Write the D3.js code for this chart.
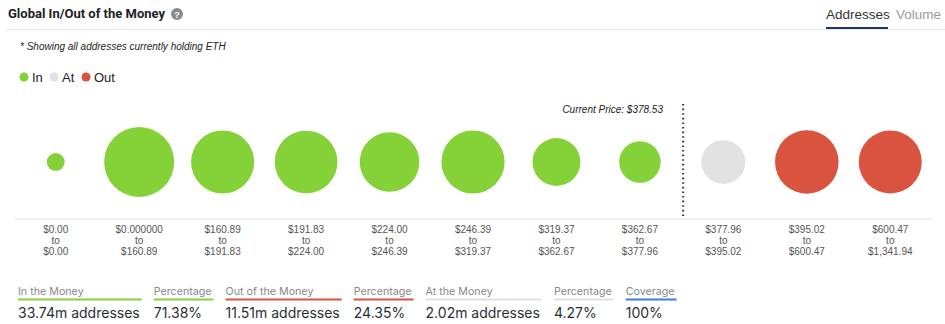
<!DOCTYPE html>
<html><head><meta charset="utf-8">
<script src="https://cdn.jsdelivr.net/npm/d3@7"></script>
<style>
html,body{margin:0;padding:0;background:#fff;}
svg{display:block;}
</style></head>
<body>
<svg id="chart" width="945" height="324"></svg>
<script>
// ---- data ----
const rangeFrom = ["$0.00","$0.000000","$160.89","$191.83","$224.00","$246.39","$319.37","$362.67","$377.96","$395.02","$600.47"];
const rangeTo   = ["$0.00","$160.89","$191.83","$224.00","$246.39","$319.37","$362.67","$377.96","$395.02","$600.47","$1,341.94"];
const status    = ["in","in","in","in","in","in","in","in","at","out","out"];
const addressesM = [0.01, 7.50, 5.72, 5.62, 4.88, 5.74, 2.60, 1.67, 2.02, 5.82, 5.69];
const currentPrice = "$378.53";
const priceAfterIndex = 8; // price line sits before this bin
const legendKeys = ["In","At","Out"];
const summaryLabels = ["In the Money","Percentage","Out of the Money","Percentage","At the Money","Percentage","Coverage"];
const summaryValues = ["33.74m addresses","71.38%","11.51m addresses","24.35%","2.02m addresses","4.27%","100%"];
const summaryKinds  = ["in","in","out","out","at","at","cov"];
const tabs = ["Addresses","Volume"];

const colors = {in:"#84d138", at:"#e2e2e2", out:"#d9533f", cov:"#3b7ddd"};
const lineColors = {in:"#84d138", at:"#e0e0e0", out:"#d9533f", cov:"#3b7ddd"};

const svg = d3.select("#chart");
const sans = "'Liberation Sans', Helvetica, Arial, sans-serif";

// ---- header ----
const title = svg.append("text").attr("x",8).attr("y",18).attr("font-family","Roboto, " + sans)
  .attr("font-size",13).attr("font-weight","bold").attr("fill","#222")
  .text("Global In/Out of the Money");
const tEnd = 8 + title.node().getComputedTextLength();
const qx = tEnd + 12;
svg.append("circle").attr("cx",qx).attr("cy",14).attr("r",6).attr("fill","#8a8a8a");
svg.append("text").attr("x",qx).attr("y",17.5).attr("text-anchor","middle")
  .attr("font-family",sans).attr("font-size",9).attr("font-weight","bold").attr("fill","#fff").text("?");
svg.append("line").attr("x1",6).attr("x2",945).attr("y1",29.5).attr("y2",29.5)
  .attr("stroke","#e8e8e8").attr("stroke-width",1);
svg.append("text").attr("x",826).attr("y",19).attr("font-family",sans).attr("font-size",13.5)
  .attr("fill","#333").text(tabs[0]);
svg.append("line").attr("x1",826).attr("x2",888).attr("y1",28).attr("y2",28)
  .attr("stroke","#1f3566").attr("stroke-width",2);
svg.append("text").attr("x",896).attr("y",19).attr("font-family",sans).attr("font-size",13.5)
  .attr("fill","#9a9a9a").text(tabs[1]);

svg.append("text").attr("x",20).attr("y",50).attr("font-family",sans).attr("font-size",10)
  .attr("font-style","italic").attr("fill","#222")
  .text("* Showing all addresses currently holding ETH");

// legend
const legendX = [24, 54, 86];
const legendColor = [colors.in, colors.at, colors.out];
legendKeys.forEach((k,i)=>{
  svg.append("circle").attr("cx",legendX[i]).attr("cy",77).attr("r",4.5).attr("fill",legendColor[i]);
  svg.append("text").attr("x",legendX[i]+8).attr("y",82).attr("font-family",sans)
    .attr("font-size",13).attr("fill","#222").text(k);
});

// ---- chart ----
const x = d3.scaleBand().domain(d3.range(addressesM.length)).range([14,932]).padding(0);
const r = d3.scaleSqrt().domain([0, d3.max(addressesM)]).range([8,35]);
const cy = 162, axisY = 218.5;

const axis = d3.axisBottom(x).tickSize(0).tickFormat("");
const gAxis = svg.append("g").attr("transform",`translate(0,${axisY})`).call(axis);
gAxis.select(".domain").attr("stroke","#dde1ea").attr("stroke-width",1);
gAxis.selectAll(".tick").each(function(d){
  const t = d3.select(this).select("text").attr("fill","#555")
    .attr("font-family",sans).attr("font-size",10).attr("dy",null).attr("y",14.5);
  t.append("tspan").attr("x",0).attr("dy",0).text(rangeFrom[d]);
  t.append("tspan").attr("x",0).attr("dy",10.8).text("to");
  t.append("tspan").attr("x",0).attr("dy",10.8).text(rangeTo[d]);
});

svg.append("g").selectAll("circle").data(addressesM).join("circle")
  .attr("cx",(d,i)=>x(i)+x.bandwidth()/2).attr("cy",cy).attr("r",d=>r(d))
  .attr("fill",(d,i)=>colors[status[i]]);

// current price line
const px = x(priceAfterIndex) + 1.5;
svg.append("line").attr("x1",px).attr("x2",px).attr("y1",104).attr("y2",axisY)
  .attr("stroke","#333").attr("stroke-width",2).attr("stroke-dasharray","1.6,3");
svg.append("text").attr("x",663).attr("y",113).attr("text-anchor","end")
  .attr("font-family",sans).attr("font-size",10).attr("font-style","italic").attr("fill","#222")
  .text("Current Price: " + currentPrice);

// ---- summary ----
const inter = "Inter, 'Liberation Sans', sans-serif";
let sx = 18;
const labelSize = 10.7, valueSize = 14;
summaryLabels.forEach((lab,i)=>{
  const g = svg.append("g");
  const lt = g.append("text").attr("x",sx).attr("y",295).attr("font-family",inter)
    .attr("font-size",labelSize).attr("fill","#888").text(lab);
  const vt = g.append("text").attr("x",sx).attr("y",318).attr("font-family",inter)
    .attr("font-size",valueSize).attr("fill","#2a2f36").text(summaryValues[i]);
  const w = Math.max(lt.node().getComputedTextLength(), vt.node().getComputedTextLength());
  g.append("line").attr("x1",sx).attr("x2",sx+w+2).attr("y1",299.5).attr("y2",299.5)
    .attr("stroke",lineColors[summaryKinds[i]]).attr("stroke-width",2);
  sx += w + 14;
});
</script>
</body></html>
